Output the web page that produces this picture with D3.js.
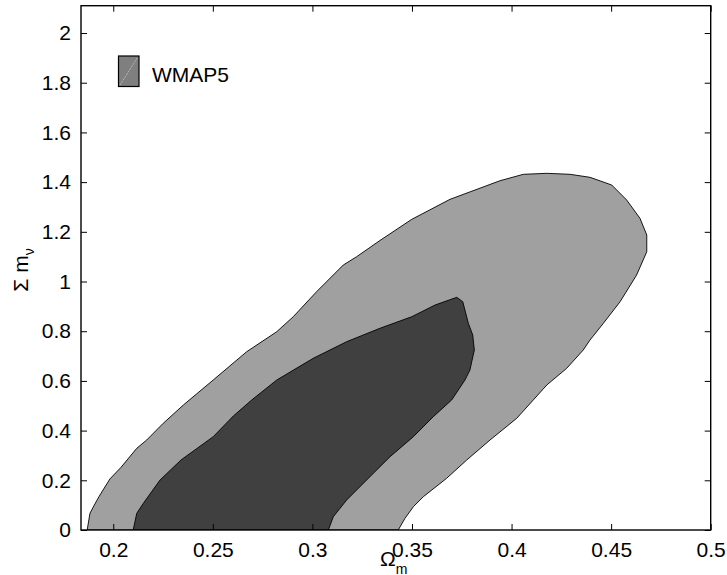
<!DOCTYPE html>
<html>
<head>
<meta charset="utf-8">
<script src="https://cdn.jsdelivr.net/npm/d3@7"></script>
<style>
  html, body { margin: 0; padding: 0; background: #fff; }
  svg { display: block; font-family: "Liberation Sans", Arial, sans-serif; }
</style>
</head>
<body>
<svg id="chart" width="727" height="575"></svg>
<script>
// ---- data ----
const xTicks = [0.2, 0.25, 0.3, 0.35, 0.4, 0.45, 0.5];
const yTicks = [0, 0.2, 0.4, 0.6, 0.8, 1, 1.2, 1.4, 1.6, 1.8, 2];
const xDomain = [0.1838, 0.5];
const yDomain = [0, 2.11];

// 95% (outer) contour, [Omega_m, sum m_nu]
const outerContour = [
  [0.1869,0],[0.1883,0.0672],[0.1905,0.1006],[0.1928,0.134],[0.1983,0.2052],
  [0.2039,0.2523],[0.2118,0.3288],[0.2168,0.3622],[0.2251,0.4294],[0.2352,0.503],
  [0.2502,0.6036],[0.2670,0.7175],[0.2821,0.798],[0.2904,0.8584],[0.3021,0.959],
  [0.3155,1.0664],[0.3222,1.0998],[0.3339,1.165],[0.3499,1.2503],[0.3691,1.3308],
  [0.3942,1.4056],[0.4059,1.4314],[0.4177,1.4354],[0.4294,1.4314],[0.4394,1.4193],
  [0.4503,1.3883],[0.4578,1.328],[0.4645,1.2543],[0.4679,1.1871],[0.4679,1.1199],
  [0.4628,1.0262],[0.4545,0.9187],[0.4461,0.8318],[0.4394,0.7646],[0.4360,0.7243],
  [0.4277,0.6507],[0.4177,0.5835],[0.4109,0.5231],[0.4026,0.4495],[0.3892,0.3622],
  [0.3775,0.2817],[0.3674,0.208],[0.3557,0.134],[0.3507,0.0938],[0.3465,0.0471],
  [0.3431,0]
];
// 68% (inner) contour
const innerContour = [
  [0.2100,0],[0.2118,0.0672],[0.2151,0.1074],[0.2235,0.2012],[0.2340,0.2817],
  [0.2502,0.3755],[0.2603,0.4588],[0.2695,0.5231],[0.2821,0.6036],[0.3004,0.6909],
  [0.3172,0.7578],[0.3339,0.8117],[0.3499,0.8584],[0.3616,0.9054],[0.3725,0.9364],
  [0.3755,0.9187],[0.3783,0.8318],[0.3805,0.7847],[0.3813,0.7243],[0.3791,0.6439],
  [0.3766,0.6036],[0.3699,0.5231],[0.3607,0.4559],[0.3507,0.3755],[0.3390,0.295],
  [0.3306,0.2282],[0.3172,0.1207],[0.3105,0.0535],[0.3080,0]
];
const legendLabel = "WMAP5";

// ---- layout ----
const L = 81, R = 710.7, T = 5.7, B = 530;
const svg = d3.select("#chart");
const x = d3.scaleLinear().domain(xDomain).range([L, R]);
const y = d3.scaleLinear().domain(yDomain).range([B, T]);

svg.append("defs").append("clipPath").attr("id", "clip")
  .append("rect").attr("x", L).attr("y", T).attr("width", R - L).attr("height", B - T);

const line = d3.line().x(d => x(d[0])).y(d => y(d[1]));
const g = svg.append("g").attr("clip-path", "url(#clip)");
g.append("path").attr("d", line(outerContour) + "Z")
  .attr("fill", "#a0a0a0").attr("stroke", "#000").attr("stroke-width", 0.9);
g.append("path").attr("d", line(innerContour) + "Z")
  .attr("fill", "#404040").attr("stroke", "#000").attr("stroke-width", 0.9);

// axes
const fs = 21;
const xAxisB = d3.axisBottom(x).tickValues(xTicks).tickSizeInner(-6).tickSizeOuter(0)
  .tickPadding(12).tickFormat(d3.format("~g"));
const xAxisT = d3.axisTop(x).tickValues(xTicks).tickSizeInner(-6).tickSizeOuter(0).tickFormat("");
const yAxisL = d3.axisLeft(y).tickValues(yTicks).tickSizeInner(-6).tickSizeOuter(0)
  .tickPadding(10).tickFormat(d3.format("~g"));
const yAxisR = d3.axisRight(y).tickValues(yTicks).tickSizeInner(-6).tickSizeOuter(0).tickFormat("");

function style(sel) {
  sel.select(".domain").remove();
  sel.selectAll(".tick line").attr("stroke", "#000").attr("stroke-width", 1);
  sel.selectAll(".tick text").attr("fill", "#000").attr("font-size", fs)
    .attr("font-family", "'Liberation Sans', Arial, sans-serif");
}
svg.append("g").attr("transform", `translate(0,${B})`).call(xAxisB).call(style);
svg.append("g").attr("transform", `translate(0,${T})`).call(xAxisT).call(style);
svg.append("g").attr("transform", `translate(${L},0)`).call(yAxisL).call(style);
svg.append("g").attr("transform", `translate(${R},0)`).call(yAxisR).call(style);

svg.append("rect").attr("x", L).attr("y", T).attr("width", R - L).attr("height", B - T)
  .attr("fill", "none").attr("stroke", "#000").attr("stroke-width", 1.4);

// axis labels
const xl = svg.append("text").attr("x", 380).attr("y", 566).attr("font-size", fs).attr("fill", "#000");
xl.append("tspan").text("Ω");
xl.append("tspan").attr("font-size", 14).attr("dy", 7.5).text("m");

const yl = svg.append("text").attr("transform", "translate(28,270) rotate(-90)")
  .attr("text-anchor", "middle").attr("font-size", fs).attr("fill", "#000");
yl.append("tspan").text("Σ m");
yl.append("tspan").attr("font-size", 14).attr("dy", 6).text("ν");

// legend
const lg = svg.append("g");
lg.append("rect").attr("x", 118.5).attr("y", 56).attr("width", 20.5).attr("height", 30.5)
  .attr("fill", "#7f7f7f").attr("stroke", "#000").attr("stroke-width", 1.2);
lg.append("line").attr("x1", 120).attr("y1", 85).attr("x2", 137.5).attr("y2", 57.5)
  .attr("stroke", "#cfcfcf").attr("stroke-width", 0.7).attr("stroke-dasharray", "2,1");
lg.append("text").attr("x", 152).attr("y", 82).attr("font-size", fs).attr("fill", "#000").text(legendLabel);
</script>
</body>
</html>
